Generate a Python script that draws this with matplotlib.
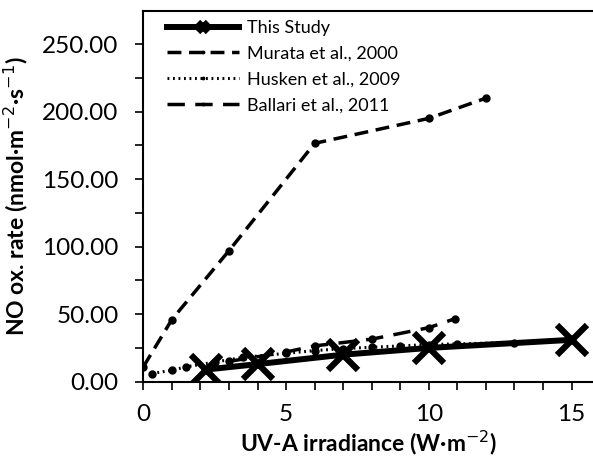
import matplotlib
matplotlib.use("Agg")
import matplotlib.pyplot as plt
from matplotlib.ticker import MultipleLocator, FormatStrFormatter

plt.rcParams['font.family'] = ['Lato', 'DejaVu Sans']

# data
study_x = [2.2, 4.0, 7.0, 10.0, 15.0]
study_y = [9.0, 13.0, 20.0, 25.0, 31.0]

murata_x = [0.0, 1.0, 3.0, 6.0, 10.0, 12.0]
murata_y = [11.0, 46.0, 97.0, 176.5, 195.0, 210.0]

husken_x = [0.3, 1.0, 1.5, 2.5, 3.5, 5.0, 6.0, 7.0, 8.0, 9.0, 10.0, 11.0, 13.0]
husken_y = [6.0, 8.5, 11.0, 14.5, 18.0, 21.0, 23.0, 24.5, 25.5, 26.5, 27.5, 28.0, 29.0]

ballari_x = [3.0, 5.0, 6.0, 8.0, 10.0, 10.9]
ballari_y = [15.0, 22.0, 26.5, 31.5, 40.0, 46.5]

fig = plt.figure(figsize=(5.93, 4.67), dpi=100)
ax = fig.add_axes([0.2417, 0.1827, 0.7583, 0.7937])

ax.plot(study_x, study_y, color="black", lw=4.3, marker="x", markersize=22,
        markeredgewidth=4.5, label="This Study", zorder=5)
ax.plot(murata_x, murata_y, color="black", lw=2.5, linestyle=(0, (4, 2.2)),
        marker="o", markersize=5, label="Murata et al., 2000")
ax.plot(husken_x, husken_y, color="black", lw=2.2, linestyle=(0, (0.6, 1.2)),
        marker="o", markersize=5, label="Husken et al., 2009")
ax.plot(ballari_x, ballari_y, color="black", lw=2.5, linestyle=(0, (5, 3)),
        marker="o", markersize=5, label="Ballari et al., 2011")

ax.set_xlim(0, 15.75)
ax.set_ylim(0, 274.5)
ax.xaxis.set_major_locator(MultipleLocator(5))
ax.xaxis.set_minor_locator(MultipleLocator(1))
ax.yaxis.set_major_locator(MultipleLocator(50))
ax.yaxis.set_minor_locator(MultipleLocator(25))
ax.yaxis.set_major_formatter(FormatStrFormatter('%.2f'))

for s in ["left", "bottom", "top"]:
    ax.spines[s].set_linewidth(1.5)
ax.spines["right"].set_visible(False)
ax.tick_params(which="both", direction="out", length=5.8, width=1.2, labelsize=17.5)
ax.tick_params(axis="y", pad=12)
ax.tick_params(axis="x", pad=10)

ax.set_xlabel("UV-A irradiance (W·m$^{-2}$)", fontsize=16.5, fontweight="bold", labelpad=3)
ax.set_ylabel("NO ox. rate (nmol·m$^{-2}$·s$^{-1}$)", fontsize=16.5, fontweight="bold", labelpad=9)

ax.legend(loc="upper left", bbox_to_anchor=(0.053, 0.976), frameon=False, fontsize=13,
          handlelength=4.0, labelspacing=0.54, handletextpad=0.4, markerscale=0.35,
          borderaxespad=0, borderpad=0)

fig.savefig("out.png", dpi=100)
